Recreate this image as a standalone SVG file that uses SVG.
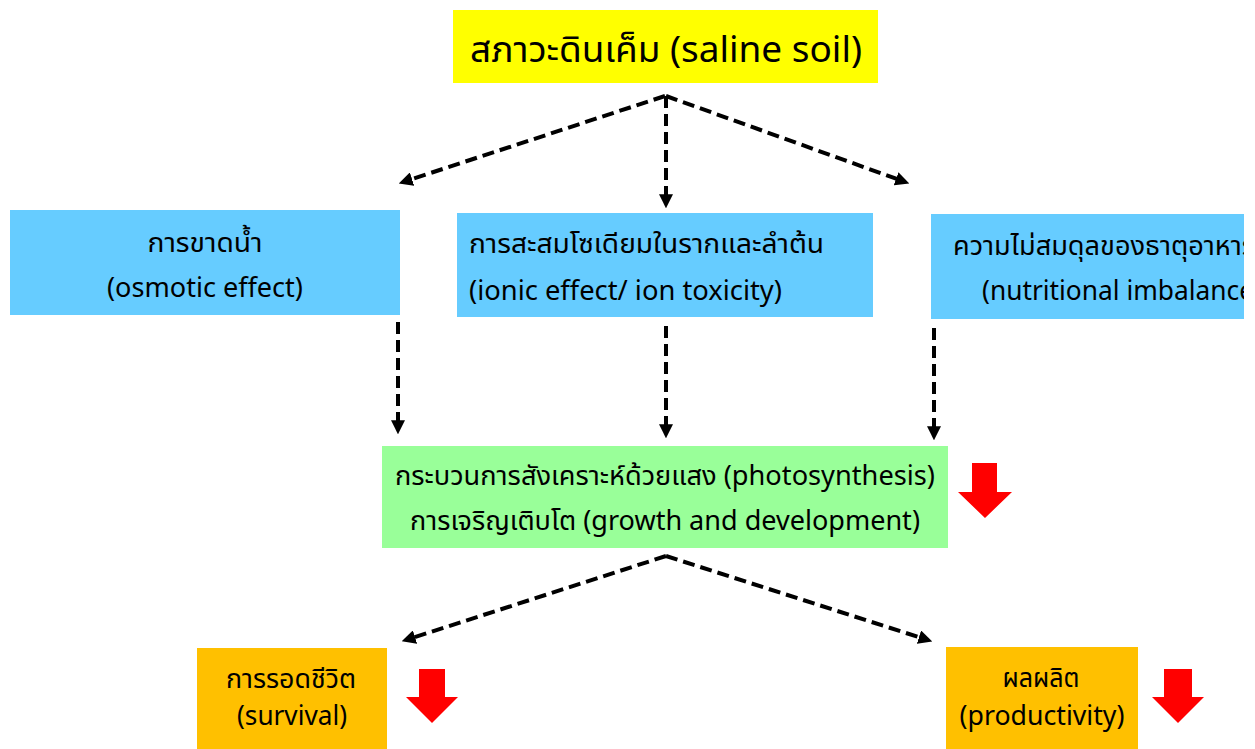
<svg xmlns="http://www.w3.org/2000/svg" width="1255" height="749" viewBox="0 0 1255 749">
<defs>
<style>
.t{font-family:"Noto Sans","Noto Sans Thai","Liberation Sans",sans-serif;fill:#000;}
.b{font-size:27px;}
.c{text-anchor:middle;}
.con{fill:none;stroke:#000;stroke-width:4;stroke-dasharray:12 6;marker-end:url(#ah);}
.red{fill:#FF0000;}
</style>
<marker id="ah" markerUnits="userSpaceOnUse" markerWidth="14" markerHeight="14" refX="4" refY="6" orient="auto" viewBox="0 0 12 12">
<path d="M0,0 L12,6 L0,12 z" fill="#000"/>
</marker>
<clipPath id="clipR"><rect x="931" y="214" width="313" height="105"/></clipPath>
</defs>
<rect width="1255" height="749" fill="#fff"/>
<g id="saline">
<rect x="453" y="10" width="425" height="73" fill="#FFFF00"/>
<text class="t c" x="666" y="62" font-size="36" textLength="392" lengthAdjust="spacingAndGlyphs">สภาวะดินเค็ม (saline soil)</text>
</g>
<g id="osmotic">
<rect x="10" y="210" width="390" height="105" fill="#66CCFF"/>
<text class="t b c" x="205" y="252" textLength="115" lengthAdjust="spacingAndGlyphs">การขาดน้ำ</text>
<text class="t b c" x="205" y="297" textLength="196" lengthAdjust="spacingAndGlyphs">(osmotic effect)</text>
</g>
<g id="ionic">
<rect x="457" y="213" width="416" height="104" fill="#66CCFF"/>
<text class="t b" x="469" y="253" textLength="355" lengthAdjust="spacingAndGlyphs">การสะสมโซเดียมในรากและลำต้น</text>
<text class="t b" x="469" y="300" textLength="313" lengthAdjust="spacingAndGlyphs">(ionic effect/ ion toxicity)</text>
</g>
<g id="nutrition" clip-path="url(#clipR)">
<rect x="931" y="214" width="313" height="105" fill="#66CCFF"/>
<text class="t b" x="953" y="255" textLength="302" lengthAdjust="spacingAndGlyphs">ความไม่สมดุลของธาตุอาหาร</text>
<text class="t b" x="982" y="300" textLength="280" lengthAdjust="spacingAndGlyphs">(nutritional imbalance)</text>
</g>
<g id="photosynthesis">
<rect x="382" y="446" width="566" height="102" fill="#99FF99"/>
<text class="t b c" x="665" y="485" textLength="540" lengthAdjust="spacingAndGlyphs">กระบวนการสังเคราะห์ด้วยแสง (photosynthesis)</text>
<text class="t b c" x="665" y="530" textLength="510" lengthAdjust="spacingAndGlyphs">การเจริญเติบโต (growth and development)</text>
<polygon class="red" points="972,463 997,463 997,492 1012,492 985,518 958,492 972,492"/>
</g>
<g id="survival">
<rect x="197" y="648" width="190" height="101" fill="#FFC000"/>
<text class="t b c" x="291" y="688" textLength="130" lengthAdjust="spacingAndGlyphs">การรอดชีวิต</text>
<text class="t b c" x="292" y="725" textLength="110" lengthAdjust="spacingAndGlyphs">(survival)</text>
<polygon class="red" points="419,669 445,669 445,697 458,697 432,723 406,697 419,697"/>
</g>
<g id="productivity">
<rect x="946" y="647" width="192" height="102" fill="#FFC000"/>
<text class="t b c" x="1041" y="687" textLength="77" lengthAdjust="spacingAndGlyphs">ผลผลิต</text>
<text class="t b c" x="1042" y="725" textLength="165" lengthAdjust="spacingAndGlyphs">(productivity)</text>
<polygon class="red" points="1164,669 1192,669 1192,697 1204,697 1178,723 1152,697 1164,697"/>
</g>
<g id="connectors">
<path class="con" d="M665,96 L407.6,180.5"/>
<path class="con" d="M666,96 L666,199"/>
<path class="con" d="M666,96 L900.5,180.3"/>
<path class="con" d="M398,322 L398,425"/>
<path class="con" d="M666,326 L666,429"/>
<path class="con" d="M934,328 L934,431"/>
<path class="con" d="M666,556 L410.6,638.5"/>
<path class="con" d="M666,556 L923.4,638.6"/>
</g>
</svg>
